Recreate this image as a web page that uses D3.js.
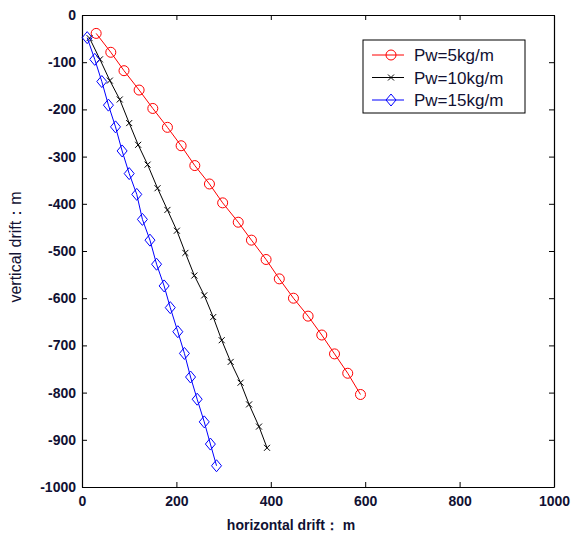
<!DOCTYPE html>
<html>
<head>
<meta charset="utf-8">
<script src="https://cdn.jsdelivr.net/npm/d3@7"></script>
<style>
  html, body { margin: 0; padding: 0; background: #fff; }
  svg { display: block; }
  text { font-family: "Liberation Sans", Arial, sans-serif; }
</style>
</head>
<body>
<svg id="chart" width="574" height="536"></svg>
<script>
// ---- data ----
const seriesNames = ["Pw=5kg/m", "Pw=10kg/m", "Pw=15kg/m"];

const pw5X = [30, 61, 89, 121, 150, 181, 210, 239, 270, 298, 331, 359, 390, 418, 448, 479, 508, 535, 563, 590];
const pw5Y = [-39, -79, -118, -159, -198, -238, -277, -319, -358, -398, -439, -477, -518, -559, -600, -638, -678, -718, -759, -804];

const pw10X = [16, 38, 59, 80, 100, 119, 139, 160, 181, 201, 219, 238, 259, 278, 296, 315, 336, 354, 375, 392];
const pw10Y = [-49, -94, -139, -179, -229, -275, -317, -367, -413, -457, -504, -552, -594, -640, -689, -735, -779, -825, -872, -917];

const pw15X = [11, 27, 42, 56, 71, 85, 100, 116, 128, 144, 158, 174, 187, 203, 217, 230, 244, 259, 272, 285];
const pw15Y = [-48, -94, -141, -191, -237, -288, -336, -380, -433, -477, -528, -574, -620, -671, -717, -767, -814, -862, -909, -955];

const xTicks = [0, 200, 400, 600, 800, 1000];
const yTicks = [0, -100, -200, -300, -400, -500, -600, -700, -800, -900, -1000];
const xLabel = "horizontal drift： m";
const yLabel = "vertical drift：m";

// ---- layout ----
const svg = d3.select("#chart");
const L = 82, T = 15, R = 554, B = 487;
const x = d3.scaleLinear().domain([0, 1000]).range([L, R]);
const y = d3.scaleLinear().domain([-1000, 0]).range([B, T]);
const tickLen = 5;
const fmt = d => String(d);

const series = [
  { name: seriesNames[0], xs: pw5X, ys: pw5Y, color: "#ff0000", marker: "circle" },
  { name: seriesNames[1], xs: pw10X, ys: pw10Y, color: "#000000", marker: "cross" },
  { name: seriesNames[2], xs: pw15X, ys: pw15Y, color: "#0000ff", marker: "diamond" }
];

// axes (MATLAB style: inward ticks on all sides)
const gBottom = svg.append("g").attr("transform", `translate(0,${B})`)
  .call(d3.axisBottom(x).tickValues(xTicks).tickFormat(fmt).tickSizeInner(-tickLen).tickSizeOuter(0).tickPadding(9));
const gTop = svg.append("g").attr("transform", `translate(0,${T})`)
  .call(d3.axisTop(x).tickValues(xTicks).tickFormat("").tickSizeInner(-tickLen).tickSizeOuter(0));
const gLeft = svg.append("g").attr("transform", `translate(${L},0)`)
  .call(d3.axisLeft(y).tickValues(yTicks).tickFormat(fmt).tickSizeInner(-tickLen).tickSizeOuter(0).tickPadding(6));
const gRight = svg.append("g").attr("transform", `translate(${R},0)`)
  .call(d3.axisRight(y).tickValues(yTicks).tickFormat("").tickSizeInner(-tickLen).tickSizeOuter(0));

[gBottom, gTop, gLeft, gRight].forEach(g => {
  g.select(".domain").attr("stroke", "#000").attr("stroke-width", 1.2);
  g.selectAll(".tick line").attr("stroke", "#000").attr("stroke-width", 1);
  g.selectAll(".tick text")
    .attr("fill", "#111133")
    .style("font-size", "14px")
    .style("font-weight", "bold")
    .style("font-family", "'Liberation Sans', Arial, sans-serif");
});

// axis labels
svg.append("text")
  .attr("x", 291).attr("y", 530)
  .attr("text-anchor", "middle")
  .attr("fill", "#111133")
  .style("font-size", "14px").style("font-weight", "bold")
  .text(xLabel);

svg.append("text")
  .attr("transform", `translate(21,${(T + B) / 2 - 4}) rotate(-90)`)
  .attr("text-anchor", "middle")
  .attr("fill", "#111133")
  .style("font-size", "16px")
  .text(yLabel);

// marker drawing
function drawMarker(g, type, cx, cy, color) {
  if (type === "circle") {
    g.append("circle").attr("cx", cx).attr("cy", cy).attr("r", 5)
      .attr("fill", "none").attr("stroke", color).attr("stroke-width", 1);
  } else if (type === "diamond") {
    g.append("path")
      .attr("d", `M${cx},${cy - 6}L${cx + 5},${cy}L${cx},${cy + 6}L${cx - 5},${cy}Z`)
      .attr("fill", "none").attr("stroke", color).attr("stroke-width", 1);
  } else {
    const s = 3;
    g.append("path")
      .attr("d", `M${cx - s},${cy - s}L${cx + s},${cy + s}M${cx - s},${cy + s}L${cx + s},${cy - s}`)
      .attr("fill", "none").attr("stroke", color).attr("stroke-width", 1);
  }
}

// series
const line = d3.line().x(d => x(d[0])).y(d => y(d[1]));
series.forEach(s => {
  const pts = s.xs.map((v, i) => [v, s.ys[i]]);
  const g = svg.append("g");
  g.append("path").datum(pts).attr("d", line)
    .attr("fill", "none").attr("stroke", s.color).attr("stroke-width", 1);
  pts.forEach(p => drawMarker(g, s.marker, x(p[0]), y(p[1]), s.color));
});

// legend
const lg = svg.append("g");
lg.append("rect").attr("x", 363).attr("y", 40).attr("width", 162).attr("height", 73)
  .attr("fill", "#fff").attr("stroke", "#000").attr("stroke-width", 1);
series.forEach((s, i) => {
  const cy = 55 + i * 22.5;
  lg.append("line").attr("x1", 372).attr("x2", 404).attr("y1", cy).attr("y2", cy)
    .attr("stroke", s.color).attr("stroke-width", 1);
  drawMarker(lg, s.marker, 391, cy, s.color);
  lg.append("text").attr("x", 414).attr("y", cy + 6)
    .attr("fill", "#111133")
    .style("font-size", "17px")
    .text(s.name);
});
</script>
</body>
</html>
